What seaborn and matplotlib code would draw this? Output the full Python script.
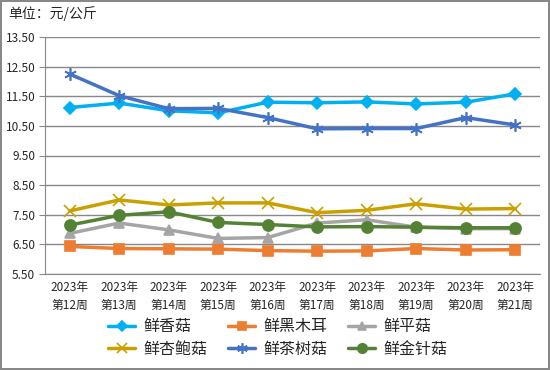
import matplotlib
matplotlib.use('Agg')
import matplotlib.pyplot as plt
import pandas as pd
import seaborn as sns

weeks = ['2023年\n第12周', '2023年\n第13周', '2023年\n第14周', '2023年\n第15周', '2023年\n第16周',
         '2023年\n第17周', '2023年\n第18周', '2023年\n第19周', '2023年\n第20周', '2023年\n第21周']

xianggu = [11.12, 11.27, 11.01, 10.94, 11.30, 11.28, 11.31, 11.24, 11.30, 11.58]
heimuer = [6.43, 6.36, 6.35, 6.34, 6.29, 6.27, 6.28, 6.36, 6.31, 6.32]
pinggu = [6.87, 7.22, 6.99, 6.70, 6.73, 7.22, 7.33, 7.08, 7.03, 7.03]
xingbaogu = [7.63, 8.00, 7.83, 7.90, 7.90, 7.57, 7.65, 7.87, 7.69, 7.71]
chashugu = [12.25, 11.52, 11.08, 11.09, 10.78, 10.40, 10.41, 10.41, 10.78, 10.53]
jinzhengu = [7.15, 7.48, 7.60, 7.24, 7.17, 7.09, 7.10, 7.08, 7.06, 7.06]

names = ['鲜香菇', '鲜黑木耳', '鲜平菇', '鲜杏鲍菇', '鲜茶树菇', '鲜金针菇']
series = [xianggu, heimuer, pinggu, xingbaogu, chashugu, jinzhengu]
colors = ['#00B0F0', '#ED7D31', '#A5A5A5', '#C9A000', '#4472C4', '#548235']
marks = ['D', 's', '^', 'x', (6, 2, 0), 'o']
msizes = [6.5, 6.5, 7.5, 8, 9, 8]

sns.set_style('white')
plt.rcParams['font.family'] = ['Noto Sans CJK SC', 'DejaVu Sans']

fig = plt.figure(figsize=(5.5, 3.7), dpi=100, linewidth=1.5, edgecolor='#888888')
ax = fig.add_axes([45 / 550, 96 / 370, 495 / 550, 237 / 370])

# one call per series, because filled and line-art markers can't share a style map
for name, vals, c, m, ms in zip(names, series, colors, marks, msizes):
    d = pd.DataFrame({'week': weeks, 'price': vals})
    sns.lineplot(data=d, x='week', y='price', color=c, marker=m, markersize=ms,
                 markeredgecolor=c, markerfacecolor=c, markeredgewidth=1.2,
                 linewidth=2.5, sort=False, label=name, ax=ax)

ax.set_ylim(5.5, 13.5)
ax.set_yticks([5.5 + i for i in range(9)])
ax.set_yticklabels(['%.2f' % (5.5 + i) for i in range(9)], fontsize=8.5)
ax.set_xlim(-0.5, 9.5)
ax.set_xticks(range(10))
ax.set_xticklabels(weeks, fontsize=8.5, linespacing=1.45)
ax.set_xticks([i - 0.5 for i in range(11)], minor=True)
ax.tick_params(axis='x', which='major', length=0, pad=5)
ax.tick_params(axis='x', which='minor', length=4, color='#888888', direction='out')
ax.tick_params(axis='y', length=4, color='#888888', direction='out', left=True, pad=3)
ax.grid(axis='y', color='#888888', linewidth=1)
ax.set_axisbelow(True)
for s in ['top', 'right']:
    ax.spines[s].set_visible(False)
for s in ['left', 'bottom']:
    ax.spines[s].set_color('#888888')
ax.set_xlabel('')
ax.set_ylabel('')

# legend fills row by row in the reference
handles, labels = ax.get_legend_handles_labels()
order = [0, 3, 1, 4, 2, 5]
ax.legend([handles[i] for i in order], [labels[i] for i in order],
          loc='upper center', bbox_to_anchor=(0.47, -0.16), ncol=3, frameon=False,
          fontsize=11.5, handlelength=1.7, handletextpad=0.5, columnspacing=1.3,
          labelspacing=0.35, borderaxespad=0, markerscale=0.85)

fig.text(8 / 550, 1 - 14 / 370, '单位：元/公斤', fontsize=10, va='center', ha='left')

fig.savefig('out.png', dpi=100, edgecolor=fig.get_edgecolor())
